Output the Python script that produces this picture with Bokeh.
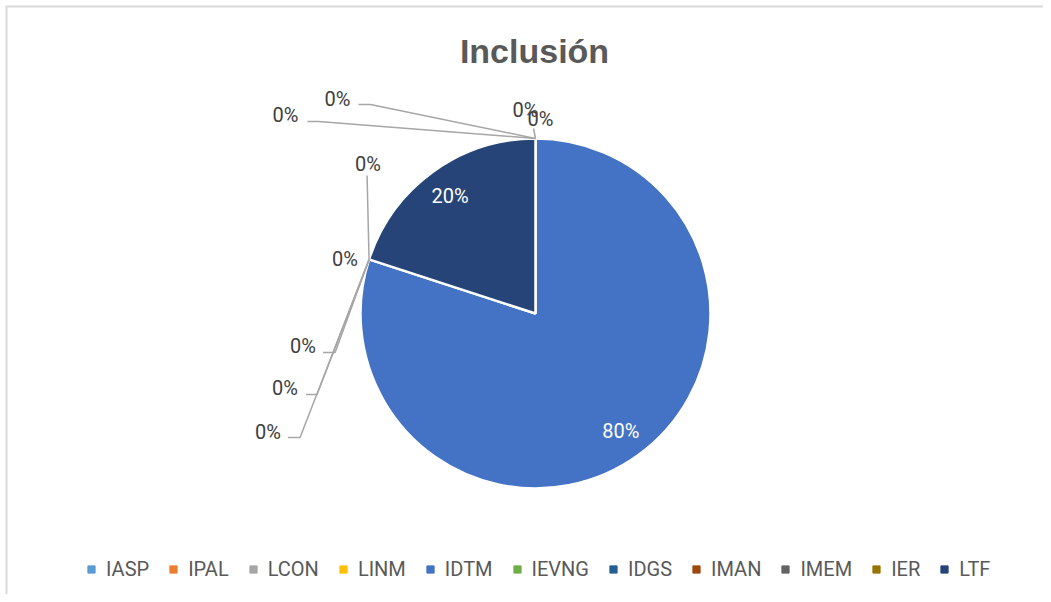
import numpy as np
from bokeh.plotting import figure
from bokeh.models import Range1d, ColumnDataSource
from bokeh.core.properties import value
from bokeh.embed import file_html
from bokeh.resources import INLINE

# ---------------- data ----------------
title_text = "Inclusión"
categories = ["IASP", "IPAL", "LCON", "LINM", "IDTM", "IEVNG", "IDGS", "IMAN", "IMEM", "IER", "LTF"]
values = [0, 0, 0, 0, 80, 0, 0, 0, 0, 0, 20]
colors = ["#5B9BD5", "#ED7D31", "#A5A5A5", "#FFC000", "#4472C4", "#70AD47",
          "#255E91", "#9E480E", "#636363", "#997300", "#264478"]

# ---------------- style / layout ----------------
W, H = 1043, 594
LFONT = "Roboto"
BOLD = "Liberation Sans"
LBL_SIZE = 20
TXT_SHIFT = 7  # text baseline correction (px)

def X(px):  # page px -> data x
    return px

def Y(py):  # page px -> data y
    return H - py

cx, cy, r = X(535), Y(313), 175

# layout of the zero-value labels (offsets of label centre from slice anchor, page px, y down)
# and leader line points relative to label centre
zero_layout = [
    ((5, -20), [(-7, 10)]),
    ((-10, -29), []),
    ((-198, -40), [(21, 6), (33, 6)]),
    ((-250, -24), [(22, 7), (33, 7)]),
    ((-1, -96), [(-1, 12)]),
    ((-24, -1), []),
    ((-66, 86), [(20, 7), (32, 7)]),
    ((-84, 128), [(21, 7), (32, 7)]),
    ((-101, 172), [(20, 6), (32, 6)]),
]

p = figure(width=W, height=H, x_range=Range1d(0, W), y_range=Range1d(0, H),
           output_backend="svg", toolbar_location=None, min_border=0)
p.axis.visible = False
p.grid.visible = False
p.outline_line_color = None
p.background_fill_color = "white"

# chart border (left and top visible)
p.line(x=[X(6), X(6), W], y=[0, Y(6), Y(6)], line_color="#d9d9d9", line_width=2)

vals = np.array(values, dtype=float)
frac = vals / vals.sum()
cum = np.concatenate([[0.0], np.cumsum(frac)])
start_a = np.pi / 2 - cum[1:] * 2 * np.pi
end_a = np.pi / 2 - cum[:-1] * 2 * np.pi
mid_a = (start_a + end_a) / 2

nz = vals > 0
wsrc = ColumnDataSource(dict(
    start=start_a[nz], end=end_a[nz], color=[c for c, k in zip(colors, nz) if k],
))
p.wedge(x=cx, y=cy, radius=r, start_angle="start", end_angle="end", source=wsrc,
        fill_color="color", line_color="white", line_width=2.5)

# inside labels for non-zero slices
pct = [f"{int(round(f * 100))}%" for f in frac]
cap = 0.36 * LBL_SIZE - TXT_SHIFT
in_x = [cx + 0.83 * r * np.cos(a) for a, k in zip(mid_a, nz) if k]
in_y = [cy + 0.83 * r * np.sin(a) - cap for a, k in zip(mid_a, nz) if k]
in_t = [t for t, k in zip(pct, nz) if k]
p.text(x=in_x, y=in_y, text=in_t, text_font=value(LFONT), text_font_size=f"{LBL_SIZE}px",
       text_color="white", text_align="center", text_baseline="alphabetic")

# zero labels with leader lines
zx, zy, zt, lxs, lys = [], [], [], [], []
zi = [i for i in range(len(values)) if not nz[i]]
for j, i in enumerate(zi):
    a = start_a[i]
    ax_, ay_ = cx + r * np.cos(a), cy + r * np.sin(a)
    (dx, dy), pts = zero_layout[j]
    lx, ly = ax_ + dx, ay_ - dy
    zx.append(lx)
    zy.append(ly - cap)
    zt.append(pct[i])
    if pts:
        xs = [lx + u for u, v in pts] + [ax_]
        ys = [ly - v for u, v in pts] + [ay_]
        lxs.append(xs)
        lys.append(ys)
p.multi_line(xs=lxs, ys=lys, line_color="#a6a6a6", line_width=1.5)
p.text(x=zx, y=zy, text=zt, text_font=value(LFONT), text_font_size=f"{LBL_SIZE}px",
       text_color="#404040", text_align="center", text_baseline="alphabetic")

# title
p.text(x=[X(534)], y=[Y(57) + TXT_SHIFT], text=[title_text], text_font=value(BOLD),
       text_font_style="bold", text_font_size="34px", text_color="#595959",
       text_align="center", text_baseline="alphabetic")

# legend
lsrc = ColumnDataSource(dict(x=[np.nan] * len(categories), y=[np.nan] * len(categories),
                             cat=categories, color=colors))
p.scatter(x="x", y="y", source=lsrc, marker="square", color="color", legend_field="cat")
lg = p.legend[0]
lg.orientation = "horizontal"
lg.location = (82, 13)
lg.margin = 0
lg.padding = 0
lg.spacing = 15
lg.glyph_width = 18
lg.glyph_height = 18
lg.label_standoff = 6
lg.label_text_font = LFONT
lg.label_text_font_size = "20px"
lg.label_text_color = "#595959"
lg.label_height = 18
lg.border_line_color = None
lg.background_fill_alpha = 0

open("out.html", "w").write(file_html(p, INLINE))
